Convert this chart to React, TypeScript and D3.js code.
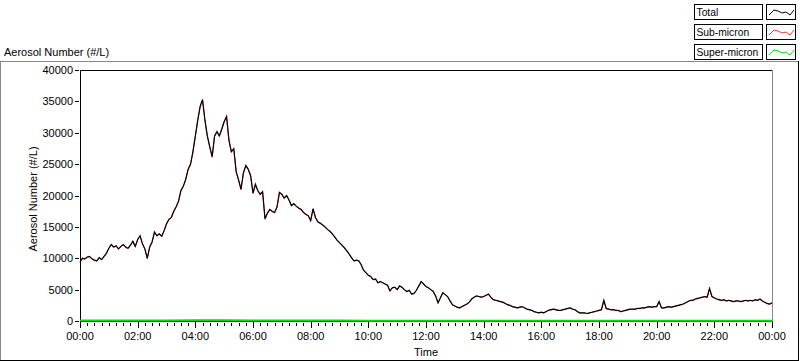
import React from "react";
import * as d3 from "d3";

// Total aerosol number (#/L), one value every 5 minutes from 00:00 to 24:00
const totalValues: number[] = [
  9400, 10000, 9900, 10200, 10300, 9900, 9700, 9600, 10100, 9800,
  10300, 10800, 11600, 12200, 11800, 12000, 11500, 11900, 12200, 11800,
  11600, 12100, 12700, 11900, 13000, 13600, 12300, 11500, 10000, 11800,
  12600, 14200, 13600, 13900, 13500, 14400, 15500, 16200, 16500, 17500,
  18200, 19100, 20800, 21500, 22600, 24200, 25000, 27000, 29500, 32000,
  34200, 35300, 32000, 29500, 27800, 26200, 29500, 30200, 29500, 30600,
  31800, 32600, 28800, 27000, 27500, 23800, 22500, 21000, 23600, 24800,
  24200, 23200, 20400, 21800, 20800, 20200, 20600, 16300, 17200, 17800,
  17500, 17300, 18200, 20500, 20200, 19600, 20000, 19300, 18400, 18700,
  18300, 18000, 17800, 17300, 17000, 16800, 16000, 17900, 16500, 15800,
  15600, 15300, 15000, 14600, 14300, 13900, 13400, 12900, 12500, 12100,
  11700, 11200, 10700, 10100, 9600, 9700, 9600, 9000, 8100, 7700,
  7300, 7100, 6600, 6700, 6100, 6300, 6100, 5900, 5700, 4800,
  5300, 5400, 5000, 5600, 5400, 5000, 4700, 4900, 4300, 4400,
  4900, 5600, 6300, 5900, 5500, 5300, 5000, 4700, 4000, 2900,
  3700, 4500, 4200, 3900, 3200, 2600, 2400, 2200, 2100, 2300,
  2500, 2700, 3000, 3500, 3800, 4000, 3900, 3800, 3900, 4100,
  4300, 3800, 3400, 3300, 3200, 3100, 3000, 2800, 2600, 2500,
  2300, 2200, 2100, 2200, 2300, 2100, 1900, 1800, 1700, 1500,
  1400, 1300, 1400, 1300, 1500, 1700, 1800, 1900, 1800, 1700,
  1700, 1800, 1900, 2000, 2100, 1900, 1800, 1500, 1300, 1300,
  1300, 1200, 1300, 1400, 1500, 1600, 1700, 1800, 3300, 2000,
  1900, 1800, 1800, 1700, 1700, 1500, 1600, 1700, 1800, 1900,
  1900, 1900, 2000, 2000, 2100, 2100, 2200, 2300, 2200, 2300,
  2300, 3100, 2100, 2100, 2200, 2300, 2200, 2300, 2400, 2500,
  2600, 2700, 2900, 3100, 3300, 3300, 3500, 3600, 3700, 3800,
  3900, 3800, 5200, 3900, 3700, 3500, 3400, 3300, 3400, 3200,
  3300, 3200, 3100, 3200, 3200, 3100, 3200, 3300, 3200, 3300,
  3200, 3400, 3300, 3500, 3200, 3000, 2800, 2700, 2900,
];

// Super-micron values (#/L), hourly
const superValues: number[] = [
  60, 70, 60, 80, 120, 110, 90, 80, 70, 60, 50, 40, 40, 30, 30, 30, 30, 30, 40, 40, 40, 50, 50, 40, 40,
];

const yTicks: number[] = [0, 5000, 10000, 15000, 20000, 25000, 30000, 35000, 40000];
const xTickLabels: string[] = ["00:00", "02:00", "04:00", "06:00", "08:00", "10:00", "12:00", "14:00", "16:00", "18:00", "20:00", "22:00", "00:00"];
const legendNames: string[] = ["Total", "Sub-micron", "Super-micron"];
const legendColors: string[] = ["#000000", "#ff3030", "#00e000"];

const FONT = "'Liberation Sans', Arial, sans-serif";

export default function App() {
  const W = 800, H = 361;
  const left = 80, right = 772, top = 70, bottom = 321;
  const x = d3.scaleLinear().domain([0, 1440]).range([left, right]);
  const y = d3.scaleLinear().domain([0, 40000]).range([bottom, top]);

  const totalPts = totalValues.map((v, i) => ({ t: i * 5, v }));
  const superPts = superValues.map((v, i) => ({ t: i * 60, v }));
  const superAt = (t: number) => {
    const i = Math.min(Math.floor(t / 60), superValues.length - 2);
    const f = (t - i * 60) / 60;
    return superValues[i] * (1 - f) + superValues[i + 1] * f;
  };
  const subPts = totalPts.map((p) => ({ t: p.t, v: p.v - superAt(p.t) }));

  const line = d3
    .line<{ t: number; v: number }>()
    .x((d) => x(d.t))
    .y((d) => y(d.v));

  const minorTicks = d3.range(0, 1441, 15);
  const majorTicks = d3.range(0, 1441, 120);

  const legendRowY = [4, 24, 44];
  const iconPts: [number, number][] = [
    [769, 15], [774, 10], [778, 11], [782, 13], [786, 12], [790, 15], [794, 10],
  ];

  return (
    <div style={{ position: "absolute", left: 0, top: 0 }}>
      <svg width={W} height={H} style={{ display: "block", background: "#fff" }} fontFamily={FONT}>
        <rect x={0} y={0} width={W} height={H} fill="#fff" />
        {/* outer frame */}
        <line x1={0} y1={61.5} x2={799} y2={61.5} stroke="#888" />
        <line x1={0.5} y1={61} x2={0.5} y2={360} stroke="#888" />
        <line x1={0} y1={360.5} x2={799} y2={360.5} stroke="#000" />
        <line x1={798.5} y1={61} x2={798.5} y2={361} stroke="#000" />

        {/* title */}
        <text x={4} y={56} fontSize={11} fill="#000">Aerosol Number (#/L)</text>

        {/* legend */}
        {legendNames.map((n, i) => (
          <g key={n}>
            <rect x={694.5} y={legendRowY[i] + 0.5} width={68} height={15} fill="#fff" stroke="#000" />
            <text x={696.5} y={legendRowY[i] + 12} fontSize={10.3} fill="#000">{n}</text>
            <rect x={766.5} y={legendRowY[i] + 0.5} width={29} height={15} fill="#fff" stroke="#000" />
            <path
              d={d3.line()(iconPts.map(([px, py]) => [px, py + legendRowY[i] - 4] as [number, number])) || ""}
              fill="none"
              stroke={legendColors[i]}
              strokeWidth={1}
            />
          </g>
        ))}

        {/* plot borders */}
        <line x1={left} y1={top + 0.5} x2={right} y2={top + 0.5} stroke="#000" />
        <line x1={right + 0.5} y1={top} x2={right + 0.5} y2={bottom + 1} stroke="#888" />
        <line x1={left + 0.5} y1={top} x2={left + 0.5} y2={bottom + 1} stroke="#000" />
        <line x1={left} y1={bottom + 0.5} x2={right} y2={bottom + 0.5} stroke="#000" />

        {/* y ticks */}
        {yTicks.map((v) => (
          <g key={v}>
            <line x1={75} y1={Math.round(y(v)) + 0.5} x2={79} y2={Math.round(y(v)) + 0.5} stroke="#000" />
            <text x={73} y={y(v) + 4} fontSize={11} textAnchor="end" fill="#000">{v}</text>
          </g>
        ))}
        <text
          transform={`translate(37,199) rotate(-90)`}
          fontSize={11}
          textAnchor="middle"
          fill="#000"
        >
          Aerosol Number (#/L)
        </text>

        {/* x ticks */}
        {minorTicks.map((t) => (
          <line key={"m" + t} x1={Math.round(x(t)) + 0.5} y1={323} x2={Math.round(x(t)) + 0.5} y2={326} stroke="#000" />
        ))}
        {majorTicks.map((t, i) => (
          <g key={"M" + t}>
            <line x1={Math.round(x(t)) + 0.5} y1={322} x2={Math.round(x(t)) + 0.5} y2={328} stroke="#000" />
            <text x={x(t)} y={340} fontSize={11} textAnchor="middle" fill="#000">{xTickLabels[i]}</text>
          </g>
        ))}
        <text x={426} y={356} fontSize={11} textAnchor="middle" fill="#000">Time</text>

        {/* series */}
        <path d={line(superPts) || ""} fill="none" stroke="#00e000" strokeWidth={2} />
        <path d={line(subPts) || ""} fill="none" stroke="#ff3030" strokeWidth={1} />
        <path d={line(totalPts) || ""} fill="none" stroke="#000" strokeWidth={1.2} />
      </svg>
    </div>
  );
}
